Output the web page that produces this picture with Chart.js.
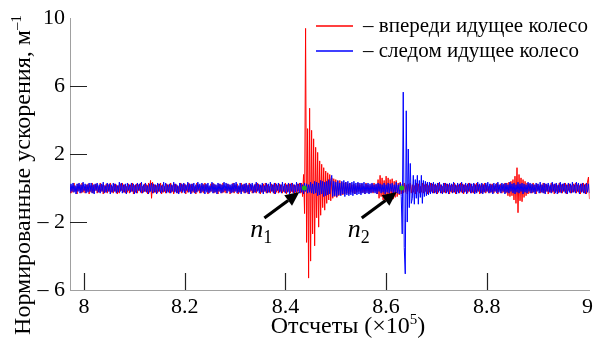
<!DOCTYPE html>
<html>
<head>
<meta charset="utf-8">
<script src="https://cdn.jsdelivr.net/npm/chart.js@4.4.1/dist/chart.umd.min.js"></script>
<style>
    html, body { margin: 0; padding: 0; background: #fff; }
</style>
</head>
<body>
<canvas id="chart" width="597" height="343"></canvas>
<script>
// samples along x, in units of 10^5
const sampleStart = 7.972;
const sampleStep = 0.002;

// normalized accelerations (alternating upper / lower excursions)
const frontWheel = [
    .2,-.3,.15,-.25,.3,-.2,.1,-.35,.25,-.15,.2,-.3,.3,-.25,.1,-.3,.2,-.2,.25,-.35,
    .15,-.25,.3,-.3,.2,-.15,.25,-.3,.1,-.25,.3,-.2,.2,-.35,.15,-.25,.25,-.3,.2,-.2,
    .3,-.25,.1,-.3,.25,-.2,.2,-.35,.15,-.3,.25,-.15,.3,-.25,.2,-.3,.1,-.25,.25,-.3,
    .2,-.2,.3,-.35,.15,-.25,.25,-.3,.2,-.15,.3,-.3,.1,-.25,.25,-.2,.2,-.35,.3,-.25,
    .45,-.6,.35,-.3,.2,-.25,.15,-.3,.25,-.2,.3,-.35,.2,-.25,.1,-.3,.25,-.2,.2,-.3,
    .3,-.25,.15,-.35,.25,-.2,.2,-.3,.1,-.25,.3,-.3,.2,-.15,.25,-.35,.15,-.25,.3,-.2,
    .2,-.3,.25,-.25,.1,-.35,.3,-.2,.2,-.3,.15,-.25,.25,-.3,.3,-.15,.2,-.35,.1,-.25,
    .25,-.2,.3,-.3,.2,-.25,.15,-.35,.25,-.2,.2,-.3,.3,-.25,.1,-.3,.25,-.15,.2,-.35,
    .15,-.25,.3,-.3,.2,-.2,.25,-.35,.1,-.25,.3,-.2,.2,-.3,.25,-.25,.15,-.35,.3,-.2,
    .2,-.3,.1,-.25,.25,-.3,.3,-.15,.2,-.35,.15,-.25,.25,-.2,.3,-.3,.2,-.25,.1,-.3,
    .25,-.2,.2,-.35,.3,-.25,.15,-.3,.25,-.2,.2,-.3,.1,-.25,.3,-.35,.2,-.2,.25,-.3,
    .3,-.25,.2,-.3,.15,-.35,.25,-.2,.3,-.3,.3,-.5,.8,-1.5,9.4,-3.2,3.5,-5.3,4.7,-4.3,
    3.4,-2.7,2.9,-3.4,2.4,-1.75,2.1,-2.3,1.6,-1.6,1.4,-1.15,1.2,-1.3,1,-.9,.9,-.7,.8,-.75,
    .6,-.6,.55,-.5,.5,-.55,.4,-.45,.45,-.4,.35,-.4,.3,-.35,.35,-.3,.25,-.35,.3,-.25,
    .2,-.3,.25,-.35,.15,-.25,.3,-.2,.2,-.3,.25,-.25,.1,-.35,.3,-.2,.2,-.3,.15,-.25,
    .25,-.3,.3,-.2,.2,-.35,.5,-.6,.75,-.5,.6,-.7,.45,-.75,.7,-.55,.6,-.7,.5,-.6,
    .55,-.65,.4,-.55,.45,-.5,.3,-.4,.35,-.35,.25,-.3,.3,-.25,.2,-.35,.25,-.2,.3,-.3,
    .2,-.25,.15,-.35,.3,-.2,.25,-.3,.1,-.25,.3,-.3,.2,-.2,.25,-.35,.15,-.25,.3,-.2,
    .25,-.3,.2,-.25,.15,-.35,.3,-.15,.2,-.3,.1,-.25,.3,-.3,.25,-.2,.2,-.35,.15,-.25,
    .2,-.25,.3,-.35,.15,-.2,.2,-.3,.3,-.25,.25,-.35,.2,-.2,.15,-.3,.3,-.2,.25,-.3,
    .1,-.3,.25,-.25,.3,-.2,.2,-.35,.15,-.3,.25,-.25,.3,-.3,.2,-.2,.1,-.3,.25,-.25,
    .25,-.3,.15,-.2,.3,-.35,.2,-.15,.25,-.3,.2,-.25,.3,-.3,.3,-.45,.35,-.5,.4,-.45,
    .5,-.7,.7,-.9,1.2,-1.45,.8,-.75,.6,-.8,.5,-.55,.4,-.45,.3,-.35,.25,-.3,.2,-.3,
    .3,-.25,.2,-.35,.25,-.15,.15,-.3,.2,-.25,.3,-.3,.25,-.2,.2,-.35,.1,-.25,.3,-.25,
    .2,-.35,.25,-.2,.15,-.3,.3,-.25,.2,-.3,.25,-.2,.3,-.35,.2,-.15,.25,-.3,.15,-.25,
    .25,-.2,.3,-.3,.2,-.25,.15,-.35,.25,-.2,.3,-.3,.25,-.35,.35,.65,-.65
];
const rearWheel = [
    -.3,.25,-.2,.3,-.25,.15,-.35,.25,-.2,.3,-.3,.2,-.25,.35,-.15,.25,-.3,.2,-.25,.3,
    -.2,.3,-.3,.2,-.35,.25,-.15,.3,-.25,.2,-.3,.25,-.2,.35,-.3,.15,-.25,.3,-.2,.25,
    -.35,.2,-.25,.3,-.2,.25,-.3,.15,-.25,.35,-.2,.3,-.3,.2,-.25,.25,-.35,.3,-.15,.2,
    -.25,.3,-.2,.25,-.35,.2,-.3,.3,-.15,.25,-.25,.35,-.3,.2,-.2,.3,-.25,.15,-.35,.25,
    -.2,.3,-.3,.25,-.25,.2,-.35,.3,-.2,.25,-.3,.15,-.25,.35,-.2,.3,-.3,.2,-.25,.25,
    -.3,.2,-.2,.35,-.25,.25,-.3,.15,-.35,.3,-.2,.25,-.25,.3,-.3,.2,-.15,.35,-.25,.25,
    -.35,.25,-.2,.3,-.3,.2,-.25,.35,-.15,.25,-.3,.3,-.2,.2,-.35,.25,-.25,.3,-.3,.15,
    -.2,.35,-.3,.25,-.25,.2,-.35,.3,-.2,.25,-.3,.2,-.25,.35,-.15,.3,-.3,.25,-.2,.2,
    -.3,.25,-.25,.3,-.2,.35,-.3,.15,-.25,.3,-.35,.2,-.2,.25,-.3,.3,-.25,.2,-.35,.25,
    -.15,.3,-.3,.2,-.25,.35,-.2,.25,-.3,.2,-.25,.3,-.35,.15,-.2,.3,-.3,.25,-.25,.35,
    -.2,.2,-.3,.3,-.35,.25,-.15,.3,-.25,.2,-.3,.35,-.2,.25,-.3,.2,-.25,.3,-.35,.25,
    -.2,.3,-.3,.2,-.25,.35,-.2,.25,-.3,.3,-.25,.2,-.35,.3,-.2,.25,-.3,.2,-.25,.35,
    -.3,.25,-.35,.4,-.3,.35,-.45,.3,-.4,.45,-.35,.4,-.5,.35,-.45,.4,-.4,.5,-.35,.45,
    .75,-.5,.4,-.45,.35,-.5,.45,-.4,.3,-.45,.4,-.35,.45,-.5,.35,-.4,.4,-.45,.3,-.4,
    .35,-.45,.4,-.35,.3,-.4,.35,-.35,.3,-.4,.3,-.3,.35,-.35,.25,-.3,.3,-.35,.25,-.3,
    .3,-.25,.2,-.3,.25,-.35,.3,-.2,.25,-.3,.2,-.25,.3,-.35,.2,-.25,.3,-.3,.25,-.2,
    .3,-.3,.2,-.25,.35,-.3,.2,-.35,.3,-.5,-2.7,5.65,-3.5,-5.05,4.55,-2,2.3,-1.15,1.45,-.9,
    -.6,.75,-.95,.5,-.6,.75,-.95,.45,-.55,.75,-.9,.45,-.5,.4,-.45,.35,-.4,.35,-.35,.3,
    -.3,.35,-.3,.25,-.35,.3,-.25,.35,-.3,.2,-.35,.3,-.25,.3,-.3,.25,-.35,.3,-.2,.25,
    -.3,.35,-.25,.2,-.35,.3,-.3,.25,-.2,.35,-.3,.2,-.25,.3,-.35,.25,-.2,.3,-.3,.25,
    -.25,.3,-.35,.2,-.3,.35,-.2,.25,-.3,.3,-.35,.2,-.25,.3,-.2,.35,-.3,.25,-.25,.2,
    -.35,.3,-.2,.25,-.3,.35,-.25,.2,-.3,.3,-.2,.25,-.35,.3,-.25,.2,-.3,.35,-.2,.25,
    -.3,.3,-.35,.2,-.25,.35,-.3,.25,-.2,.3,-.35,.25,-.25,.2,-.3,.35,-.2,.3,-.3,.25,
    -.25,.2,-.35,.3,-.2,.25,-.3,.35,-.25,.2,-.3,.3,-.35,.25,-.2,.3,-.25,.2,-.3,.35,
    -.2,.25,-.3,.3,-.35,.2,-.25,.35,-.3,.25,-.2,.3,-.3,.2,-.35,.3,-.25,.25,-.3,.35,
    -.25,.2,-.3,.35,-.2,.3,-.35,.25,-.25,.3,-.3,.2,-.35,.3,-.25,.25,-.3
];

const seriesNames = ["впереди идущее колесо", "следом идущее колесо"];
const onsets = [8.4376, 8.631];
const onsetIndex = ["1", "2"];
const xTicks = [8, 8.2, 8.4, 8.6, 8.8, 9];
const yTicks = [-6, -2, 2, 6, 10];

const serif = '"Liberation Serif", Tinos, "Times New Roman", "DejaVu Serif", serif';
const toPoints = values => values.map((v, i) => ({ x: sampleStart + i * sampleStep, y: v }));

function richText(ctx, parts, x, y, size) {
    const widths = parts.map(([t, sup]) => {
        ctx.font = `${sup ? Math.round(size * 0.62) : size}px ${serif}`;
        return ctx.measureText(t).width;
    });
    let cx = x - widths.reduce((a, b) => a + b, 0) / 2;
    parts.forEach(([t, sup], i) => {
        ctx.font = `${sup ? Math.round(size * 0.62) : size}px ${serif}`;
        ctx.fillText(t, cx, sup ? y - size * 0.38 : y);
        cx += widths[i];
    });
}

const decor = {
    id: "decor",
    afterDraw(chart) {
        const { ctx, chartArea: a, scales: { x, y } } = chart;
        ctx.save();

        // ticks point into the plot
        ctx.strokeStyle = "#222";
        ctx.lineWidth = 1.2;
        ctx.beginPath();
        yTicks.filter(v => v > y.min && v < y.max).forEach(v => {
            const py = Math.round(y.getPixelForValue(v)) + 0.5;
            ctx.moveTo(a.left, py);
            ctx.lineTo(a.left + 17, py);
        });
        xTicks.slice(0, -1).forEach(v => {
            const px = Math.round(x.getPixelForValue(v)) + 0.5;
            ctx.moveTo(px, a.bottom);
            ctx.lineTo(px, a.bottom - 17);
        });
        ctx.stroke();

        // legend
        ctx.textAlign = "left";
        ctx.textBaseline = "middle";
        ctx.font = `21px ${serif}`;
        [["#ff0000", seriesNames[0]], ["#0000ff", seriesNames[1]]].forEach(([color, name], k) => {
            const ly = 26 + k * 25;
            ctx.strokeStyle = color;
            ctx.lineWidth = 1.5;
            ctx.beginPath();
            ctx.moveTo(316, ly);
            ctx.lineTo(353, ly);
            ctx.stroke();
            ctx.fillStyle = "#000";
            ctx.fillText("– " + name, 363, ly);
        });

        // arrows to onset points
        onsets.forEach((v, k) => {
            const px = x.getPixelForValue(v);
            const py = y.getPixelForValue(0);
            const tipX = px - 5, tipY = py + 4;
            const tailX = px - 40, tailY = py + 30;
            const ang = Math.atan2(tipY - tailY, tipX - tailX);
            const headLen = 14, headW = 6.5;
            const baseX = tipX - headLen * Math.cos(ang), baseY = tipY - headLen * Math.sin(ang);
            ctx.strokeStyle = "#000";
            ctx.fillStyle = "#000";
            ctx.lineWidth = 3.2;
            ctx.beginPath();
            ctx.moveTo(tailX, tailY);
            ctx.lineTo(baseX, baseY);
            ctx.stroke();
            ctx.beginPath();
            ctx.moveTo(tipX, tipY);
            ctx.lineTo(baseX + headW * Math.sin(ang), baseY - headW * Math.cos(ang));
            ctx.lineTo(baseX - headW * Math.sin(ang), baseY + headW * Math.cos(ang));
            ctx.closePath();
            ctx.fill();

            ctx.textBaseline = "alphabetic";
            ctx.font = `italic 26px ${serif}`;
            ctx.fillText("n", px - 54, py + 49);
            ctx.font = `18px ${serif}`;
            ctx.fillText(onsetIndex[k], px - 41, py + 55);
        });

        // axis titles
        ctx.textAlign = "left";
        ctx.textBaseline = "alphabetic";
        ctx.fillStyle = "#000";
        richText(ctx, [["Отсчеты (×10", false], ["5", true], [")", false]], 348, 333, 24);
        ctx.translate(30, 175);
        ctx.rotate(-Math.PI / 2);
        richText(ctx, [["Нормированные ускорения, м", false], ["–1", true]], 0, 0, 24);

        ctx.restore();
    }
};

new Chart(document.getElementById("chart").getContext("2d"), {
    type: "line",
    data: {
        datasets: [{
            label: "onsets",
            data: onsets.map(v => ({ x: v, y: 0 })),
            showLine: false,
            pointRadius: 2.5,
            pointBorderWidth: 0,
            pointBackgroundColor: "#22b022",
            order: 0
        }, {
            label: seriesNames[1],
            data: toPoints(rearWheel),
            borderColor: "#0000ff",
            borderWidth: 1,
            pointRadius: 0,
            order: 1
        }, {
            label: seriesNames[0],
            data: toPoints(frontWheel),
            borderColor: "#ff0000",
            borderWidth: 1,
            pointRadius: 0,
            order: 2
        }]
    },
    options: {
        responsive: false,
        animation: false,
        layout: { padding: { top: 18, right: 6, left: 0, bottom: 0 } },
        plugins: {
            legend: { display: false },
            tooltip: { enabled: false }
        },
        scales: {
            x: {
                type: "linear",
                min: 7.972,
                max: 9.004,
                afterBuildTicks: scale => { scale.ticks = xTicks.map(v => ({ value: v })); },
                afterFit: scale => { scale.height = 53; },
                grid: { display: false, drawTicks: false },
                border: { color: "#a0a0a0", width: 1 },
                ticks: {
                    color: "#000",
                    padding: 4,
                    maxRotation: 0,
                    font: { family: serif, size: 22 },
                    callback: v => String(v)
                }
            },
            y: {
                min: -6,
                max: 10,
                afterBuildTicks: scale => { scale.ticks = yTicks.map(v => ({ value: v })); },
                afterFit: scale => { scale.width = 70; },
                grid: { display: false, drawTicks: false },
                border: { color: "#a0a0a0", width: 1 },
                ticks: {
                    color: "#000",
                    padding: 5,
                    font: { family: serif, size: 22 },
                    callback: v => v < 0 ? "– " + Math.abs(v) : String(v)
                }
            }
        }
    },
    plugins: [decor]
});
</script>
</body>
</html>
